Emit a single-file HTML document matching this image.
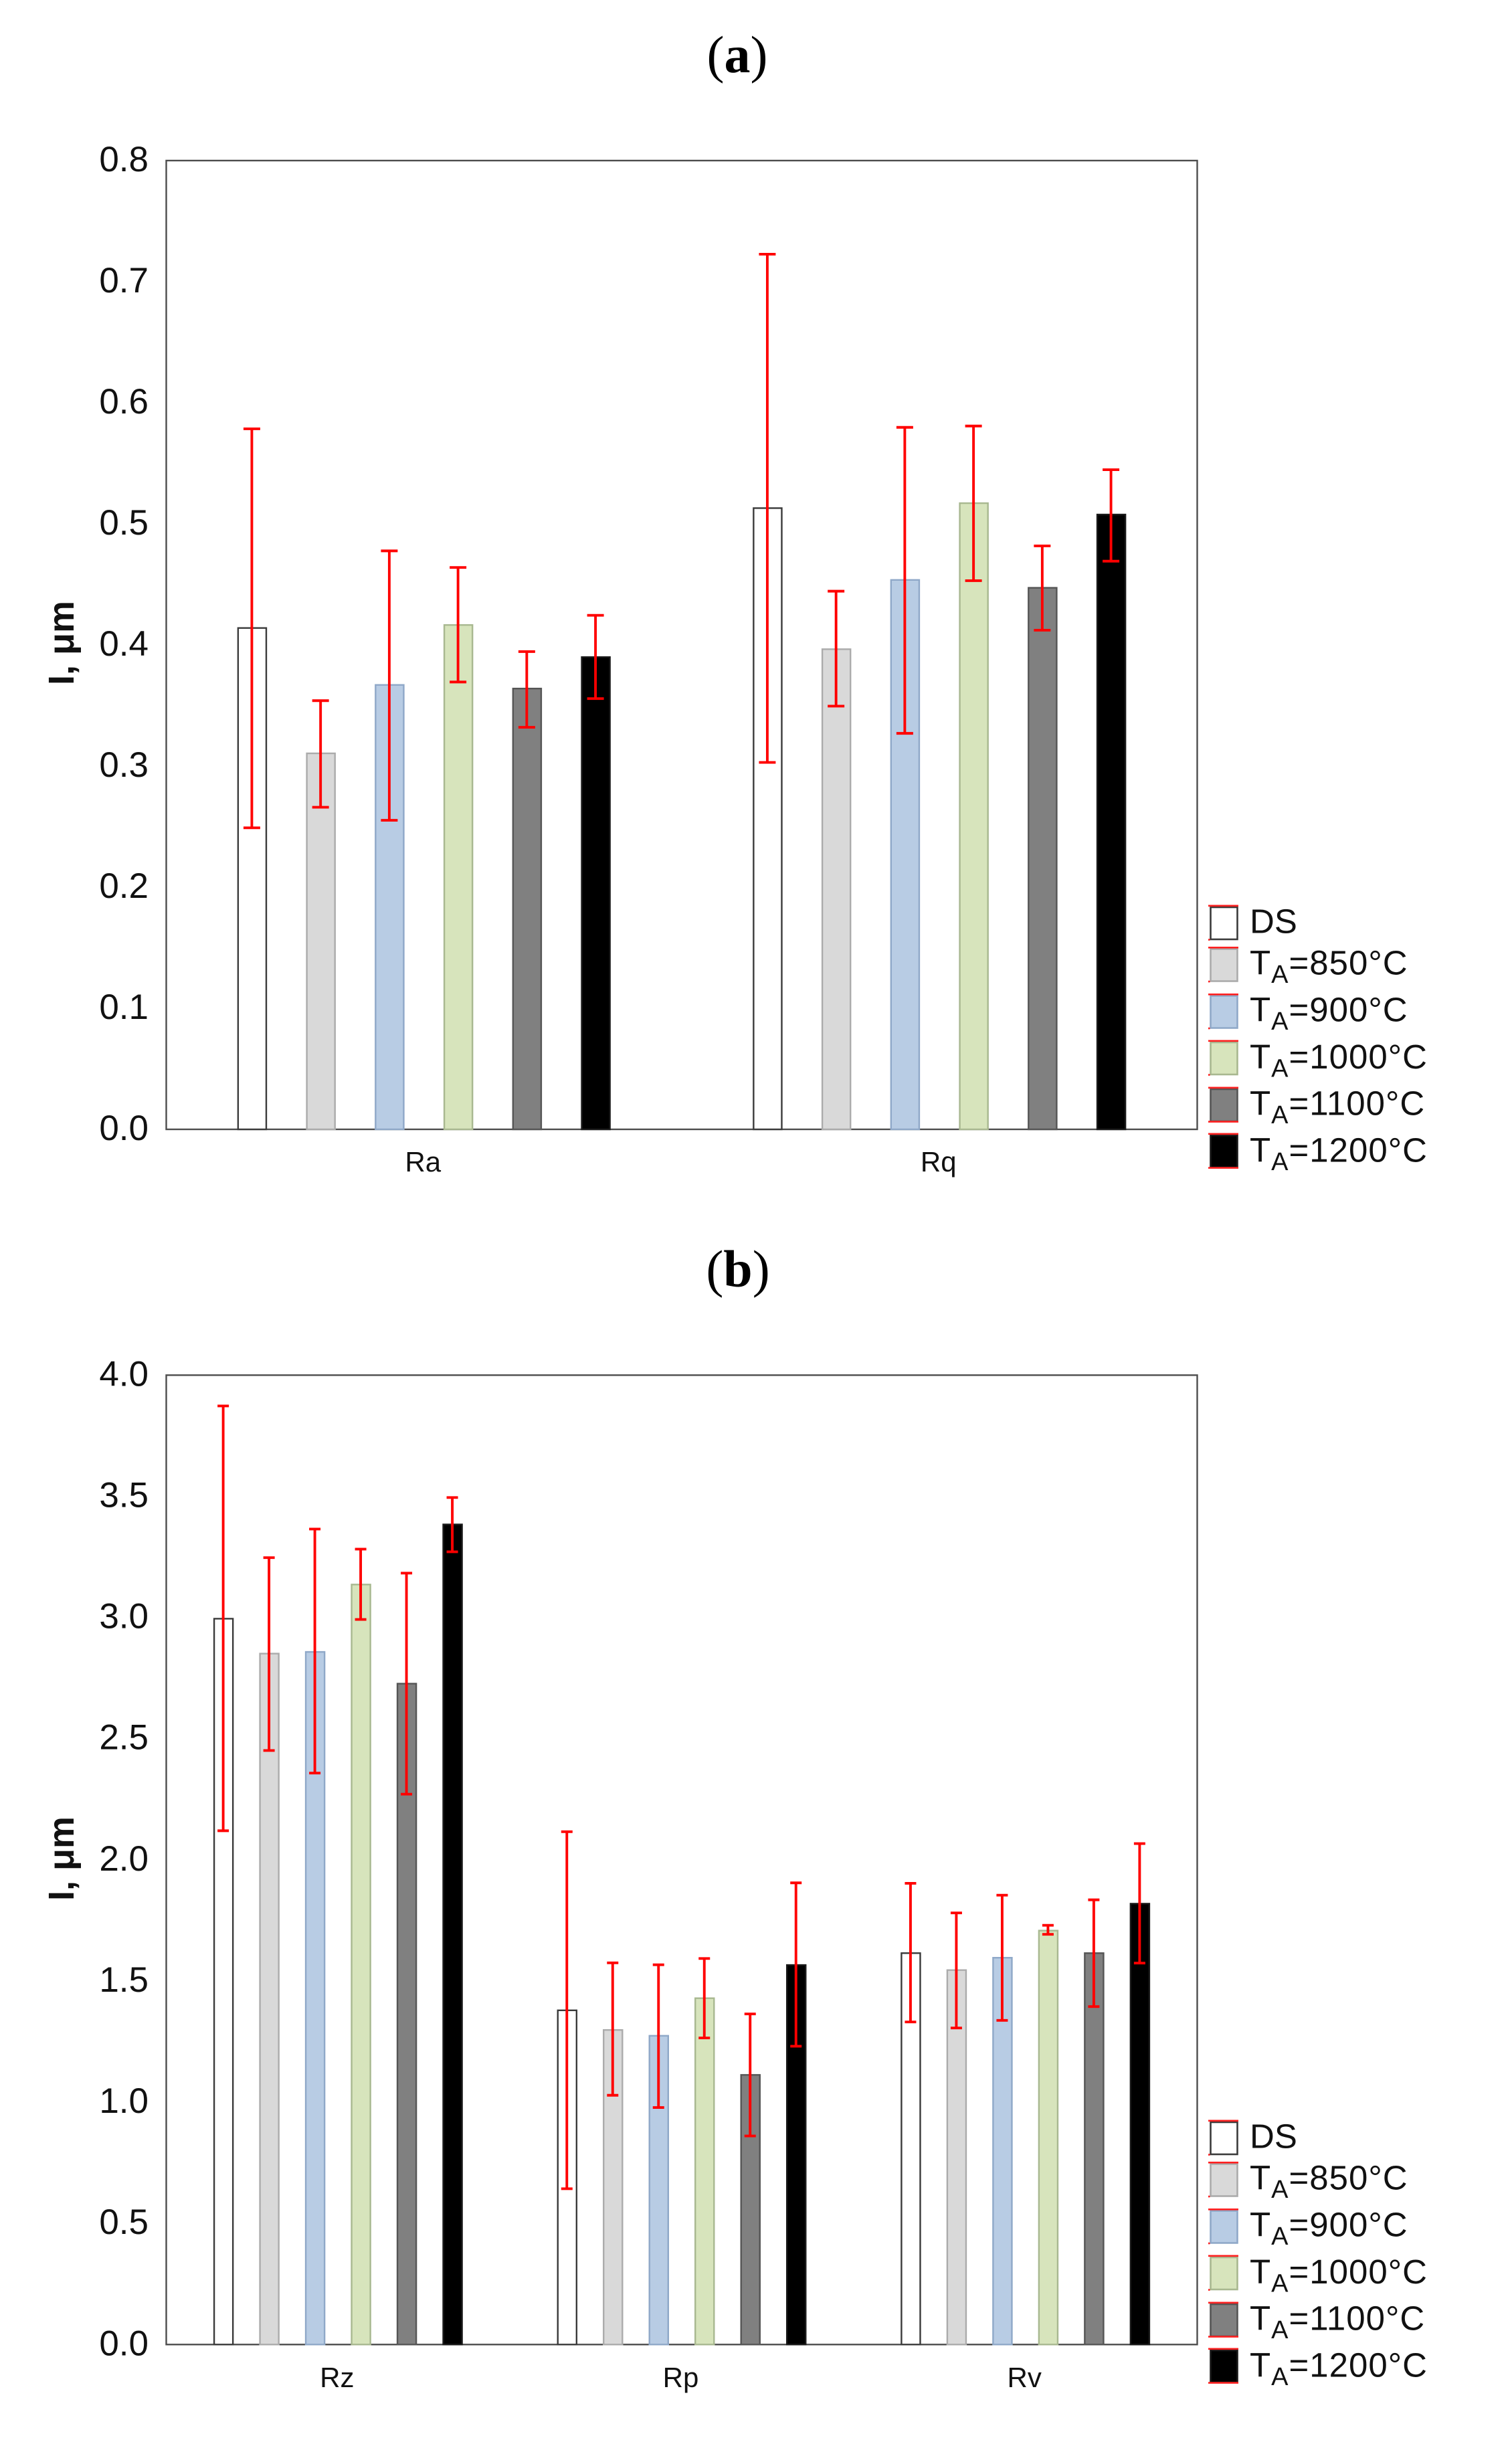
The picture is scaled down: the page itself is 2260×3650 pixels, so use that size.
<!DOCTYPE html>
<html lang="en">
<head>
<meta charset="utf-8">
<title>Surface roughness parameters bar charts</title>
<style>
html,body{margin:0;padding:0;background:#fff;}
svg{display:block;}
text{font-family:"Liberation Sans",sans-serif;fill:#111;}
.panel-title{font-family:"Liberation Serif",serif;font-size:78px;fill:#000;}
</style>
</head>
<body>
<svg id="figure" xmlns="http://www.w3.org/2000/svg" width="2260" height="3650" viewBox="0 0 2260 3650">
<rect width="2260" height="3650" fill="#fff"/>
<text class="panel-title" x="1102" y="108" text-anchor="middle">(<tspan font-weight="700">a</tspan>)</text>
<text class="panel-title" x="1103" y="1923" text-anchor="middle">(<tspan font-weight="700">b</tspan>)</text>
</svg>
<script>
/* Panel (a) data */
const categoriesA = ['Ra', 'Rq'];
const ticksA = ['0.0', '0.1', '0.2', '0.3', '0.4', '0.5', '0.6', '0.7', '0.8'];
const dsA = [0.414, 0.513];
const ta850A = [0.3105, 0.3965];
const ta900A = [0.367, 0.4537];
const ta1000A = [0.4165, 0.5171];
const ta1100A = [0.364, 0.4472];
const ta1200A = [0.39, 0.5077];
const dsHighA = [0.5785, 0.7227];
const dsLowA = [0.249, 0.303];
const ta850HighA = [0.354, 0.4444];
const ta850LowA = [0.266, 0.3495];
const ta900HighA = [0.4777, 0.5797];
const ta900LowA = [0.2552, 0.327];
const ta1000HighA = [0.464, 0.5808];
const ta1000LowA = [0.3694, 0.4531];
const ta1100HighA = [0.3945, 0.4818];
const ta1100LowA = [0.332, 0.4122];
const ta1200HighA = [0.4245, 0.5447];
const ta1200LowA = [0.3557, 0.4692];

/* Panel (b) data */
const categoriesB = ['Rz', 'Rp', 'Rv'];
const ticksB = ['0.0', '0.5', '1.0', '1.5', '2.0', '2.5', '3.0', '3.5', '4.0'];
const dsB = [2.995, 1.379, 1.615];
const ta850B = [2.851, 1.298, 1.545];
const ta900B = [2.858, 1.274, 1.596];
const ta1000B = [3.136, 1.429, 1.708];
const ta1100B = [2.727, 1.1125, 1.615];
const ta1200B = [3.384, 1.566, 1.819];
const dsHighB = [3.873, 2.116, 1.903];
const dsLowB = [2.12, 0.643, 1.331];
const ta850HighB = [3.247, 1.575, 1.781];
const ta850LowB = [2.451, 1.0285, 1.306];
const ta900HighB = [3.365, 1.567, 1.854];
const ta900LowB = [2.358, 0.978, 1.3376];
const ta1000HighB = [3.282, 1.593, 1.73];
const ta1000LowB = [2.992, 1.265, 1.6925];
const ta1100HighB = [3.183, 1.364, 1.835];
const ta1100LowB = [2.271, 0.8605, 1.3946];
const ta1200HighB = [3.495, 1.905, 2.067];
const ta1200LowB = [3.271, 1.231, 1.574];

/* Legend labels */
const seriesKeys = ['ds', 'ta850', 'ta900', 'ta1000', 'ta1100', 'ta1200'];
const legendTemps = ['', '850', '900', '1000', '1100', '1200'];

const fills = ['#ffffff', '#d9d9d9', '#b8cce4', '#d7e4bc', '#808080', '#000000'];
const strokes = ['#3a3a3a', '#ababab', '#8fa8c8', '#a8b890', '#555555', '#1a1a1a'];

const NS = 'http://www.w3.org/2000/svg';
const root = document.getElementById('figure');

function make(tag, attrs, parent, text) {
  const node = document.createElementNS(NS, tag);
  for (const k in attrs) node.setAttribute(k, attrs[k]);
  if (text !== undefined) node.textContent = text;
  parent.appendChild(node);
  return node;
}

function drawPanel(cfg) {
  const g = make('g', {}, root);
  
  

  const left = 248.5, right = 1789.5;
  const top = cfg.top, bottom = cfg.bottom;
  const maxV = parseFloat(cfg.ticks[cfg.ticks.length - 1]);
  const yScale = v => bottom - (v / maxV) * (bottom - top);
  const band = (right - left) / cfg.categories.length;
  const step = band * 0.8 / seriesKeys.length;
  const barW = step * 0.41;
  const xCenter = (c, s) => left + band * (c + 0.5) + step * (s - (seriesKeys.length - 1) / 2);

  const frame = make('rect', {x: left, y: top, width: right - left, height: bottom - top, fill: '#fff', stroke: '#4d4d4d', 'stroke-width': 2.4}, g);
  
  

  cfg.ticks.forEach(t => {
    const label = make('text', {x: 222, y: yScale(parseFloat(t)) + 16, 'text-anchor': 'end', 'font-size': 53}, g, t);
    
    
  });

  const yTitle = make('text', {transform: 'translate(110 ' + cfg.titleY + ') rotate(-90)', 'text-anchor': 'middle', 'font-size': 54, 'font-weight': 700}, g, 'I, \u03BCm');
  
  

  cfg.categories.forEach((name, c) => {
    const cat = make('text', {x: left + band * (c + 0.5) - 1.5, y: cfg.catY, 'text-anchor': 'middle', 'font-size': 42}, g, name);
    
    

    seriesKeys.forEach((key, s) => {
      const v = cfg.values[s][c];
      const x = xCenter(c, s);
      const bar = make('rect', {x: x - barW / 2, y: yScale(v), width: barW, height: bottom - yScale(v), fill: fills[s], stroke: strokes[s], 'stroke-width': 2.4}, g);
      
      
    });
  });

  cfg.categories.forEach((name, c) => {
    seriesKeys.forEach((key, s) => {
      const x = xCenter(c, s) - 0.5;
      const hi = yScale(cfg.highs[s][c]);
      const lo = yScale(cfg.lows[s][c]);
      const cap = cfg.cap / 2;
      const path = 'M' + (x - cap) + ' ' + hi + 'H' + (x + cap) + 'M' + x + ' ' + hi + 'V' + lo + 'M' + (x - cap) + ' ' + lo + 'H' + (x + cap);
      const err = make('path', {d: path, fill: 'none', stroke: '#ff0000', 'stroke-width': 3.9}, g);
      
      
    });
  });

  const dy = cfg.legendOffset;
  const swatchTops = [1356, 1418.5, 1488.5, 1558, 1628, 1697];
  const baselines = [1394.3, 1456.7, 1526.7, 1597, 1666.7, 1736.7];
  seriesKeys.forEach((key, s) => {
    const entry = make('g', {}, g);
    
    

    const sy = swatchTops[s] + dy;
    const swatch = make('rect', {x: 1809.5, y: sy, width: 40, height: 48, fill: fills[s], stroke: strokes[s], 'stroke-width': 2.6}, entry);
    
    

    const full = s >= 4;
    const marks = 'M1806 ' + (sy - 2.2) + 'H1851M1806 ' + (sy + 48.6) + 'H' + (full ? 1851 : 1808.5);
    const redMarks = make('path', {d: marks, fill: 'none', stroke: '#ff2020', 'stroke-width': 2.6}, entry);
    
    

    const by = baselines[s] + dy;
    if (s === 0) {
      const ds = make('text', {x: 1868, y: by, 'font-size': 51}, entry, 'DS');
      
      
    } else {
      const label = make('text', {x: 1868, y: by, 'font-size': 51, 'letter-spacing': 1}, entry);
      
      
      make('tspan', {}, label, 'T');
      make('tspan', {dy: 12.3, 'font-size': 38}, label, 'A');
      make('tspan', {dy: -12.3}, label, '=' + legendTemps[s] + '\u00B0C');
    }
  });
}

drawPanel({
  id: 'a', top: 240, bottom: 1688, titleY: 961, catY: 1751, cap: 25, legendOffset: 0,
  categories: categoriesA, ticks: ticksA,
  values: [dsA, ta850A, ta900A, ta1000A, ta1100A, ta1200A],
  highs: [dsHighA, ta850HighA, ta900HighA, ta1000HighA, ta1100HighA, ta1200HighA],
  lows: [dsLowA, ta850LowA, ta900LowA, ta1000LowA, ta1100LowA, ta1200LowA]
});
drawPanel({
  id: 'b', top: 2055.4, bottom: 3504.3, titleY: 2778, catY: 3568, cap: 17, legendOffset: 1816,
  categories: categoriesB, ticks: ticksB,
  values: [dsB, ta850B, ta900B, ta1000B, ta1100B, ta1200B],
  highs: [dsHighB, ta850HighB, ta900HighB, ta1000HighB, ta1100HighB, ta1200HighB],
  lows: [dsLowB, ta850LowB, ta900LowB, ta1000LowB, ta1100LowB, ta1200LowB]
});
</script>
</body>
</html>
